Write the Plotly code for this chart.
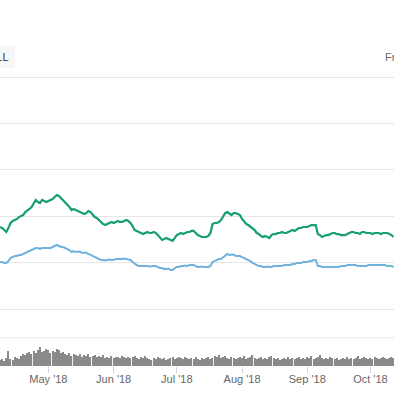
import pandas as pd
import plotly.graph_objects as go

start_date = "2018-04-08"

# Green series (daily)
green_values = [
    88.4, 87.3, 85.1, 83.0, 87.3, 92.7, 94.8, 95.9, 97.0, 99.1,
    100.2, 101.3, 104.5, 106.7, 107.8, 109.9, 113.1, 117.5, 115.3, 114.2,
    117.5, 116.4, 115.3, 116.4, 117.5, 118.5, 120.7, 122.8, 121.8, 119.6,
    117.5, 115.3, 112.1, 109.9, 106.7, 107.8, 106.7, 105.6, 104.5, 103.4,
    102.4, 103.4, 105.6, 104.5, 101.3, 99.1, 98.1, 95.9, 93.8, 91.6,
    90.5, 91.6, 92.7, 93.8, 92.7, 93.8, 94.8, 93.8, 93.8, 94.8,
    95.9, 94.8, 92.7, 89.4, 85.1, 84.1, 83.0, 81.9, 80.8, 81.9,
    83.0, 81.9, 81.9, 83.0, 81.9, 79.7, 77.6, 74.4, 75.4, 76.5,
    75.4, 74.4, 73.3, 76.5, 79.7, 80.8, 81.9, 80.8, 81.9, 83.0,
    83.0, 84.1, 84.1, 81.9, 79.7, 78.7, 77.6, 77.6, 77.6, 78.7,
    81.9, 91.6, 92.7, 92.7, 93.8, 95.9, 100.2, 103.4, 104.5, 102.4,
    101.3, 103.4, 103.4, 102.4, 101.3, 97.0, 93.8, 91.6, 90.5, 88.4,
    87.3, 85.1, 81.9, 80.8, 78.7, 77.6, 78.7, 77.6, 76.5, 79.7,
    80.8, 80.8, 81.9, 81.9, 83.0, 81.9, 81.9, 83.0, 84.1, 85.1,
    84.1, 86.2, 87.3, 87.3, 88.4, 88.4, 88.4, 89.4, 90.5, 90.5,
    90.5, 80.8, 79.7, 77.6, 78.7, 79.7, 79.7, 80.8, 81.9, 81.9,
    80.8, 80.8, 79.7, 79.7, 79.7, 80.8, 81.9, 83.0, 83.0, 81.9,
    81.9, 80.8, 83.0, 83.0, 81.9, 81.9, 81.9, 80.8, 81.9, 81.9,
    81.9, 80.8, 81.9, 81.9, 81.9, 80.8, 79.7, 77.6,
]

# Blue series (daily)
blue_values = [
    50.6, 50.6, 49.6, 49.6, 51.7, 55.0, 56.0, 57.1, 57.1, 58.2,
    58.2, 59.3, 60.3, 61.4, 62.5, 63.6, 64.7, 65.7, 65.7, 64.7,
    65.7, 65.7, 66.3, 65.7, 65.7, 66.8, 67.9, 69.0, 67.9, 66.8,
    66.8, 65.7, 64.7, 63.6, 61.4, 62.5, 61.4, 61.4, 61.9, 60.3,
    60.3, 60.8, 59.3, 58.2, 57.1, 56.0, 55.0, 53.9, 52.8, 52.8,
    52.3, 52.8, 53.3, 52.8, 52.8, 53.9, 53.9, 53.4, 53.9, 54.4,
    53.9, 53.9, 52.8, 50.6, 48.5, 47.4, 46.3, 46.3, 46.8, 46.3,
    46.3, 45.8, 46.3, 46.3, 46.3, 45.3, 44.2, 44.2, 43.1, 43.1,
    43.6, 42.0, 42.0, 44.2, 45.3, 45.3, 46.3, 46.3, 46.8, 46.3,
    47.4, 47.4, 47.4, 46.3, 45.3, 45.3, 45.8, 45.3, 45.3, 45.3,
    46.3, 50.6, 51.7, 52.8, 53.9, 53.9, 56.0, 58.2, 59.3, 58.2,
    58.2, 58.7, 57.1, 57.1, 57.1, 56.0, 55.0, 53.9, 52.8, 51.7,
    49.6, 48.5, 47.4, 46.3, 46.3, 45.3, 45.3, 45.8, 45.3, 45.3,
    46.3, 46.3, 46.8, 46.3, 46.3, 47.4, 47.4, 47.9, 47.4, 48.5,
    48.5, 49.6, 49.6, 49.6, 50.6, 50.6, 50.6, 51.7, 51.7, 52.8,
    52.8, 46.3, 46.3, 45.3, 45.3, 45.8, 45.3, 45.3, 45.3, 45.3,
    45.3, 45.3, 46.3, 46.3, 46.3, 47.4, 47.4, 47.9, 47.4, 47.4,
    46.3, 46.3, 46.8, 46.3, 46.3, 47.4, 47.4, 47.4, 47.9, 47.4,
    47.4, 47.4, 47.4, 47.4, 46.3, 46.3, 46.3, 45.3,
]

# Volume (daily)
volume_values = [
    6, 7, 5, 8, 15, 7, 6, 9, 8, 7, 10,
    12, 11, 13, 14, 12, 15, 13, 16, 19, 14, 15, 17, 16, 13, 15, 14, 17, 16, 13, 14,
    12, 11, 13, 10, 12, 11, 10, 12, 9, 11, 10, 12, 9, 10, 11, 9, 10, 9, 11, 8,
    9, 8, 10, 8, 9, 9, 8, 10, 9, 8, 9, 8, 9, 10, 8, 7, 9, 8, 10, 8,
    7, 6, 8, 7, 9, 8, 7, 8, 6, 7, 8, 9, 7, 8, 9, 8, 7, 9, 8, 7,
    8, 7, 9, 7, 6, 8, 7, 8, 9, 7, 8, 10, 9, 11, 8, 9, 10, 8, 7, 9,
    8, 7, 8, 9, 8, 10, 7, 8, 9, 11, 8, 7, 8, 9, 7, 8, 7, 9, 10, 8,
    7, 8, 6, 7, 8, 7, 9, 7, 8, 7, 8, 9, 7, 8, 7, 9, 8, 10, 7, 8,
    9, 11, 8, 7, 8, 7, 9, 8, 7, 8, 6, 7, 8, 7, 9, 7, 8, 7, 8, 10,
    7, 8, 9, 8, 7, 8, 7, 9, 8, 7, 8, 9, 8, 7, 8, 9, 8,
]

tick_dates = ["2018-05-01", "2018-06-01", "2018-07-01", "2018-08-01", "2018-09-01", "2018-10-01"]
tick_labels = ["May '18", "Jun '18", "Jul '18", "Aug '18", "Sep '18", "Oct '18"]

green_dates = pd.date_range(start_date, periods=len(green_values), freq="D")
blue_dates = pd.date_range(start_date, periods=len(blue_values), freq="D")
vol_dates = pd.date_range(start_date, periods=len(volume_values), freq="D")

W = H = 394
def py(px):
    return 1 - px / H

fig = go.Figure()
fig.add_trace(go.Bar(x=vol_dates, y=volume_values, marker=dict(color="#8a8a8a", line=dict(width=0)),
                     xaxis="x", yaxis="y2", hoverinfo="skip"))
fig.add_trace(go.Scatter(x=blue_dates, y=blue_values, mode="lines",
                         line=dict(color="#70b2dc", width=2), xaxis="x", yaxis="y"))
fig.add_trace(go.Scatter(x=green_dates, y=green_values, mode="lines",
                         line=dict(color="#17a06e", width=2.2), xaxis="x", yaxis="y"))

font = "Liberation Sans, Arial, Helvetica, sans-serif"
fig.update_layout(
    width=W, height=H,
    margin=dict(l=0, r=0, t=0, b=0),
    paper_bgcolor="white", plot_bgcolor="white",
    showlegend=False, bargap=0.45,
    xaxis=dict(domain=[0, 1], anchor="y2",
               range=["2018-04-08 00:00", "2018-10-12 05:00"],
               tickvals=tick_dates, ticktext=tick_labels,
               ticks="outside", ticklen=6, tickcolor="#ccd6eb", tickwidth=1,
               ticklabelstandoff=-3,
               showgrid=False, zeroline=False, showline=False,
               tickfont=dict(family=font, size=11, color="#666666")),
    yaxis=dict(domain=[py(338), py(75)], range=[-31.25, 252.2], anchor="x",
               tick0=0, dtick=50, showticklabels=False, gridcolor="#e6e6e6",
               gridwidth=1, zeroline=False),
    yaxis2=dict(domain=[py(366), py(338)], range=[0, 28], anchor="x",
                showticklabels=False, showgrid=False, zeroline=False),
    shapes=[
        dict(type="line", xref="paper", yref="paper", x0=0, x1=1, y0=py(338), y1=py(338),
             line=dict(color="#e6e6e6", width=1)),
        dict(type="rect", xref="paper", yref="paper", x0=-0.05, x1=15 / W, y0=py(68), y1=py(46),
             fillcolor="#f7f7f7", line=dict(width=0), layer="below"),
    ],
    annotations=[
        dict(text="ALL", xref="paper", yref="paper", x=11 / W, y=py(57), xanchor="right",
             yanchor="middle", showarrow=False, font=dict(family=font, size=11, color="#333333")),
        dict(text="From:", xref="paper", yref="paper", x=383 / W, y=py(57), xanchor="left",
             yanchor="middle", showarrow=False, font=dict(family=font, size=11, color="#666666")),
    ],
)

fig.write_html(
    "out.html",
    config={"displayModeBar": False},
    post_script="document.body.style.margin='0';document.body.style.overflow='hidden';",
)
